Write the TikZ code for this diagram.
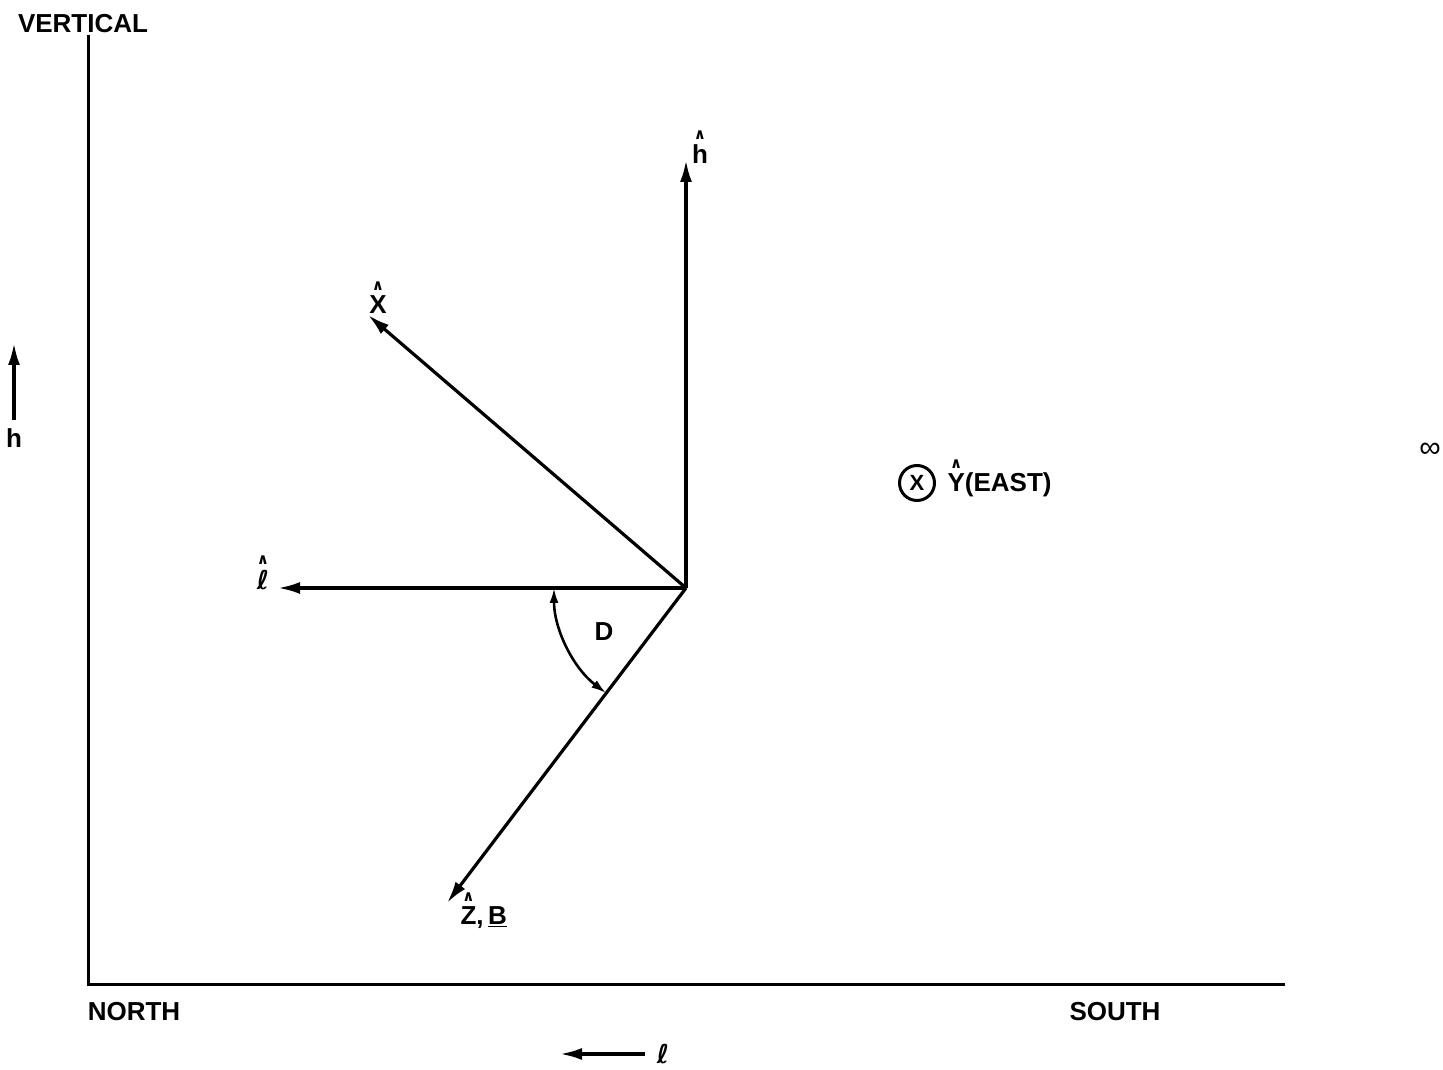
\documentclass[tikz,border=0pt]{standalone}
\usepackage{fontspec}
\setmainfont{Liberation Sans}
\newfontfamily\symfont{DejaVu Sans}
\usepackage{tikz}
\usetikzlibrary{arrows.meta,calc,positioning}
\newcommand{\vhat}[1]{\shortstack{{\symfont\bfseries\fontsize{15}{15}\selectfont ∧}\\[3pt]#1}}
\newcommand{\lell}{{\symfont\bfseries ℓ}}

\begin{document}
\begin{tikzpicture}[x=1pt,y=1pt,>={Latex[length=22pt,width=12pt]},line width=3.2pt,
    lbl/.style={font=\fontsize{26}{27}\selectfont\bfseries,inner sep=0pt}]
    \useasboundingbox (0,0) rectangle (1443,1070);
    % axes
    \coordinate (axtop) at (88,1035);
    \coordinate (axorg) at (88,85);
    \coordinate (axend) at (1285,85);
    \draw[line width=3pt] (axtop) -- (axorg) -- (axend);
    \node[lbl] (vert) at (83,1046) {VERTICAL};
    \node[lbl] (north) at (134,58) {NORTH};
    \node[lbl] (south) at (1115,58) {SOUTH};
    % unit vectors
    \coordinate (O) at (686,482);
    \coordinate (htip) at (686,910);
    \coordinate (xtip) at (368,755);
    \coordinate (ltip) at (278,482);
    \coordinate (ztip) at (447,167);
    \draw[->] (O) -- (htip);
    \draw[->] (O) -- (xtip);
    \draw[->] (O) -- (ltip);
    \draw[->] (O) -- (ztip);
    \node[lbl,anchor=base] (hlab) at (700,906) {\vhat{h}};
    \node[lbl,anchor=base] (xlab) at (378,756) {\vhat{X}};
    \node[lbl,anchor=base] (llab) at (263,480) {\vhat{\lell}};
    \node[lbl,anchor=base west] (zlab) at (459,145) {\vhat{Z},\,\underline{B}};
    % angle D
    \draw[<->,line width=2.6pt,>={Latex[length=15pt,width=9pt]}]
      ($(O)+(180:132)$) arc[start angle=180,end angle=232.8,radius=132];
    \node[lbl] (dlab) at (604,438) {D};
    % east axis into page
    \node[draw,circle,line width=3pt,minimum size=35pt,inner sep=0pt,
      font=\fontsize{22}{22}\selectfont\bfseries] (yin) at (917,587) {X};
    \node[lbl,anchor=base west] (ylab) at (946,578) {\vhat{Y}(EAST)};
    % side and bottom directions
    \coordinate (hl0) at (14,650);
    \coordinate (hl1) at (14,727);
    \draw[->] (hl0) -- (hl1);
    \node[lbl] (hside) at (14,632) {h};
    \coordinate (lb0) at (645,16);
    \coordinate (lb1) at (560,16);
    \draw[->] (lb0) -- (lb1);
    \node[lbl] (lbot) at (663,16) {\lell};
    \node[font=\fontsize{30}{30}\selectfont] (inf) at (1430,620) {∞};
  \end{tikzpicture}
\end{document}
